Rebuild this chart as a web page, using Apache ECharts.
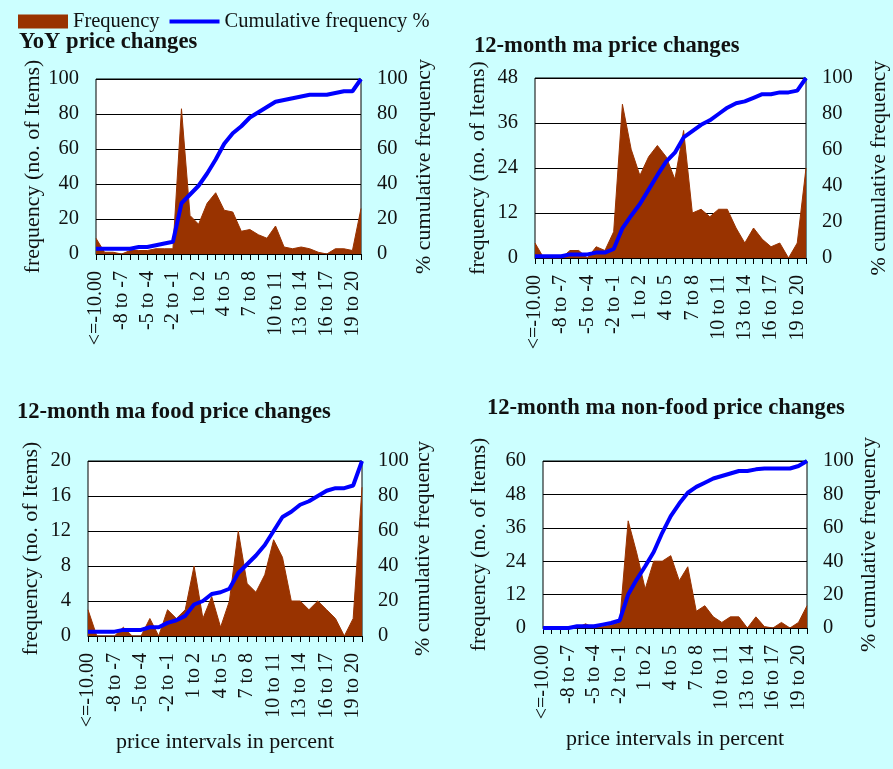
<!DOCTYPE html>
<html>
<head>
<meta charset="utf-8">
<title>Distribution of price changes</title>
<script src="https://cdn.jsdelivr.net/npm/echarts@6/dist/echarts.min.js"></script>
<style>
  html, body { margin: 0; padding: 0; background: #ccffff; }
  #chart { width: 893px; height: 769px; }
</style>
</head>
<body>
<div id="chart"></div>
<script>
// Price-change intervals (percent)
const categories = ['<=-10.00', '-10 to -9', '-9 to -8', '-8 to -7', '-7 to -6', '-6 to -5', '-5 to -4',
  '-4 to -3', '-3 to -2', '-2 to -1', '-1 to 0', '0 to 1', '1 to 2', '2 to 3', '3 to 4', '4 to 5',
  '5 to 6', '6 to 7', '7 to 8', '8 to 9', '9 to 10', '10 to 11', '11 to 12', '12 to 13', '13 to 14',
  '14 to 15', '15 to 16', '16 to 17', '17 to 18', '18 to 19', '19 to 20', '>20'];

// Number of items per interval
const yoyFreq     = [9, 1, 1, 0, 2, 2, 2, 3, 3, 3, 83, 22, 17, 29, 35, 25, 24, 13, 14, 11, 9, 16, 4, 3, 4, 3, 1, 0, 3, 3, 2, 26];
const maFreq      = [4, 0, 0, 0, 2, 2, 0, 3, 2, 7, 41, 29, 22, 27, 30, 27, 21, 34, 12, 13, 11, 13, 13, 8, 4, 8, 5, 3, 4, 0, 4, 24];
const foodFreq    = [3, 0, 0, 0, 1, 0, 0, 2, 0, 3, 2, 3, 8, 2, 4.5, 1, 4, 12, 6, 5, 7, 11, 9, 4, 4, 3, 4, 3, 2, 0, 2, 17];
const nonFoodFreq = [0, 0, 0, 0, 0, 1.5, 0, 0.5, 1, 2, 38.5, 27, 14, 24, 24, 26, 17, 22, 6, 8, 4, 2, 4, 4, 0, 4, 0.5, 0, 2, 0, 2, 8];

// Cumulative frequency (%)
const yoyCum     = [3, 3, 3, 3, 3, 4, 4, 5, 6, 7, 29, 34, 39, 46, 54, 63, 69, 73, 78, 81, 84, 87, 88, 89, 90, 91, 91, 91, 92, 93, 93, 100];
const maCum      = [1, 1, 1, 1, 2, 2, 2, 3, 3, 5, 16.5, 23.5, 30, 38, 46, 53.5, 58.5, 67, 70.5, 74, 76.5, 80, 83.5, 86, 87, 89, 91, 91, 92, 92, 93, 100];
const foodCum    = [2.5, 2.5, 2.5, 2.5, 3.5, 3.5, 3.5, 5, 5, 7.5, 9, 11.5, 18, 20, 24, 25, 27, 36, 41, 46, 52, 60, 68, 71, 75, 77, 80, 83, 84.5, 84.5, 86, 100];
const nonFoodCum = [0, 0, 0, 0, 1, 1, 1, 2, 3, 4.5, 20, 29, 37, 45.5, 57, 67, 74.5, 81, 84.5, 87, 89.5, 91, 92.5, 94, 94, 95, 95.5, 95.5, 95.5, 95.5, 97, 100];

// Panel titles and left-axis scales
const panelTitles = ['YoY price changes', '12-month ma price changes',
  '12-month ma food price changes', '12-month ma non-food price changes'];
const freqMax = [100, 48, 20, 60];
const freqStep = [20, 12, 4, 12];

const FONT = "'Liberation Serif', 'Times New Roman', serif";
const INK = '#111111';
const BROWN = '#993300';
const BLUE = '#0000ff';

const panels = [
  { freq: yoyFreq, cum: yoyCum },
  { freq: maFreq, cum: maCum },
  { freq: foodFreq, cum: foodCum },
  { freq: nonFoodFreq, cum: nonFoodCum }
];

// Plot rectangles and name offsets for the 2x2 layout
const layout = [
  { grid: { left: 96, top: 79, width: 265, height: 175 }, title: { left: 19, top: 31 }, gapL: 51, gapR: 52, xName: false },
  { grid: { left: 535, top: 78, width: 271, height: 180 }, title: { left: 474, top: 35 }, gapL: 46, gapR: 62, xName: false },
  { grid: { left: 88, top: 461, width: 274, height: 175 }, title: { left: 17, top: 401 }, gapL: 46, gapR: 44, xName: true, xGap: 87 },
  { grid: { left: 543, top: 461, width: 264, height: 167 }, title: { left: 487, top: 397 }, gapL: 53, gapR: 51, xName: true, xGap: 100 }
];

const grid = [], xAxis = [], yAxis = [], series = [], title = [];

panels.forEach((p, i) => {
  const L = layout[i];
  grid.push(Object.assign({
    show: true, backgroundColor: '#ffffff', borderColor: '#000000', borderWidth: 1,
    containLabel: false, outerBoundsMode: 'none'
  }, L.grid));

  title.push({
    text: panelTitles[i], left: L.title.left, top: L.title.top, padding: 0,
    textStyle: { fontFamily: FONT, fontSize: 22.6, fontWeight: 'bold', color: INK }
  });

  xAxis.push({
    type: 'category', gridIndex: i, data: categories, boundaryGap: false,
    name: L.xName ? 'price intervals in percent' : '',
    nameLocation: 'middle', nameGap: L.xGap || 0,
    nameTextStyle: { fontFamily: FONT, fontSize: 22, color: INK },
    axisLine: { show: true, lineStyle: { color: '#000000', width: 1 } },
    axisTick: { show: true, interval: 0, length: 6, lineStyle: { color: '#000000' } },
    axisLabel: { interval: 2, rotate: 90, margin: 17, fontFamily: FONT, fontSize: 20, color: INK },
    splitLine: { show: false }
  });

  yAxis.push({
    type: 'value', gridIndex: i, position: 'left', min: 0, max: freqMax[i], interval: freqStep[i],
    name: 'frequency (no. of Items)', nameLocation: 'middle', nameGap: L.gapL,
    nameTextStyle: { fontFamily: FONT, fontSize: 22, color: INK },
    axisLine: { show: false }, axisTick: { show: false },
    axisLabel: { margin: 17, fontFamily: FONT, fontSize: 20.5, color: INK },
    splitLine: { show: true, lineStyle: { color: '#000000', width: 1 } }
  });
  yAxis.push({
    type: 'value', gridIndex: i, position: 'right', min: 0, max: 100, interval: 20,
    name: '% cumulative frequency', nameLocation: 'middle', nameGap: L.gapR,
    nameTextStyle: { fontFamily: FONT, fontSize: 22, color: INK },
    axisLine: { show: false }, axisTick: { show: false },
    axisLabel: { margin: 16, fontFamily: FONT, fontSize: 20.5, color: INK },
    splitLine: { show: false }
  });

  series.push({
    name: 'Frequency', type: 'line', xAxisIndex: i, yAxisIndex: 2 * i,
    data: p.freq, symbol: 'none', silent: true, z: 2,
    itemStyle: { color: BROWN },
    lineStyle: { color: BROWN, width: 1 },
    areaStyle: { color: BROWN, opacity: 1 }
  });
  series.push({
    name: 'Cumulative frequency %', type: 'line', xAxisIndex: i, yAxisIndex: 2 * i + 1,
    data: p.cum, symbol: 'none', silent: true, z: 3,
    itemStyle: { color: BLUE },
    lineStyle: { color: BLUE, width: 4 }
  });
});

const chart = echarts.init(document.getElementById('chart'), null, { renderer: 'canvas' });
chart.setOption({
  backgroundColor: '#ccffff',
  animation: false,
  textStyle: { fontFamily: FONT },
  title: title,
  legend: {
    left: 18, top: 11, itemWidth: 50, itemHeight: 14, itemGap: 10, padding: 0,
    textStyle: { fontFamily: FONT, fontSize: 20.5, color: INK },
    data: [
      { name: 'Frequency', icon: 'rect' },
      { name: 'Cumulative frequency %', icon: 'path://M0,0L50,0L50,4L0,4Z' }
    ]
  },
  grid: grid,
  xAxis: xAxis,
  yAxis: yAxis,
  series: series
});
</script>
</body>
</html>
